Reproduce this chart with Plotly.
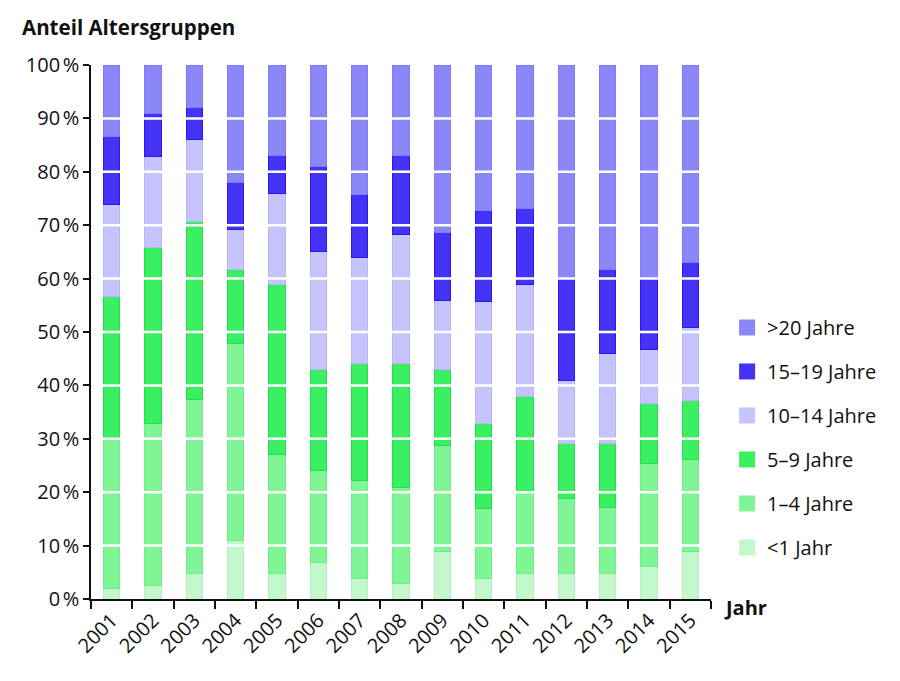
import plotly.graph_objects as go

years = [str(y) for y in range(2001, 2016)]

# share per age group in percent
lt1 = [1.9, 2.6, 4.7, 10.9, 4.7, 6.9, 3.9, 2.9, 8.9, 3.9, 4.7, 4.7, 4.7, 6.1, 8.9]
y1_4 = [28.2, 30.3, 32.6, 37.0, 22.4, 17.2, 18.2, 18.0, 19.8, 13.0, 15.4, 14.2, 12.4, 19.2, 17.2]
y5_9 = [26.6, 32.9, 33.4, 13.8, 31.8, 18.9, 22.0, 23.2, 14.3, 15.9, 17.8, 10.3, 12.1, 11.4, 11.0]
y10_14 = [17.1, 17.1, 15.4, 7.5, 17.0, 22.1, 19.8, 24.1, 12.9, 23.0, 21.0, 11.7, 16.7, 10.1, 13.8]
y15_19 = [12.9, 8.0, 6.0, 8.8, 7.1, 15.9, 11.9, 14.8, 12.7, 17.0, 14.3, 19.4, 15.8, 13.2, 12.2]
gt20 = [13.3, 9.1, 7.9, 22.0, 17.0, 19.0, 24.2, 17.0, 31.4, 27.2, 26.8, 39.7, 38.3, 40.0, 36.9]

groups = ["<1 Jahr", "1\u20134 Jahre", "5\u20139 Jahre", "10\u201314 Jahre", "15\u201319 Jahre", ">20 Jahre"]
series = [lt1, y1_4, y5_9, y10_14, y15_19, gt20]
colors = ["#c3f8cd", "#80f596", "#3af062", "#c6c4fc", "#4433f5", "#8c87f8"]
edges = ["#b3f0c0", "#70ec88", "#22e050", "#b8b5f8", "#2a18ee", "#7f7af5"]

ytick_vals = list(range(0, 101, 10))
ytick_text = [f"{v}\u202f%" for v in ytick_vals]

FONT = "Open Sans"

fig = go.Figure()
for name, vals, c, e in zip(groups, series, colors, edges):
    fig.add_trace(go.Bar(x=years, y=vals, name=name, showlegend=False,
                         marker=dict(color=c, line=dict(color=e, width=1))))

# legend proxies with bigger squares, top to bottom
for name, c in zip(groups[::-1], colors[::-1]):
    fig.add_trace(go.Scatter(x=[None], y=[None], mode="markers", name=name, legendgroup=name,
                             marker=dict(symbol="square", size=16, color=c, line=dict(width=0))))

# white grid lines drawn over the bars
for v in ytick_vals[1:-1]:
    fig.add_hline(y=v, line=dict(color="white", width=2.5), layer="above")

fig.update_layout(
    width=900, height=681,
    margin=dict(l=83, r=197, t=57, b=90),
    barmode="stack", bargap=0.6,
    plot_bgcolor="white", paper_bgcolor="white",
    font=dict(family=FONT, size=19, color="#111"),
    showlegend=True,
    legend=dict(x=1.026, xanchor="left", y=0.545, yanchor="top", traceorder="grouped",
                tracegroupgap=15, itemsizing="trace", font=dict(size=20, family=FONT)),
    annotations=[
        dict(text="<b>Anteil Altersgruppen</b>", xref="paper", yref="paper", x=-0.114, y=1.071,
             xanchor="left", yanchor="middle", showarrow=False, font=dict(size=20.5, family=FONT)),
        dict(text="<b>Jahr</b>", xref="paper", yref="paper", x=1.018, y=-0.015,
             xanchor="left", yanchor="middle", showarrow=False, font=dict(size=20, family=FONT)),
    ],
)
fig.update_xaxes(type="category", tickson="boundaries", ticks="outside", ticklen=8, tickwidth=1.5,
                 tickcolor="#111", showline=True, linecolor="#111", linewidth=1.5, tickangle=-45,
                 showgrid=False, tickfont=dict(size=20))
fig.update_yaxes(range=[0, 100], tickvals=ytick_vals, ticktext=ytick_text, ticks="outside", ticklen=6,
                 tickwidth=1.5, tickcolor="#111", showline=True, linecolor="#111", linewidth=1.5,
                 showgrid=False, zeroline=False, tickfont=dict(size=20))

fig.write_html("out.html")
